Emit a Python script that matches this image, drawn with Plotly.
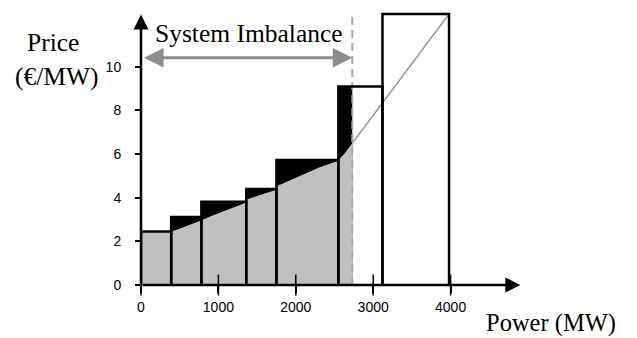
import plotly.graph_objects as go

# ---- data ----
box_edges_mw = [0, 390, 780, 1360, 1750, 2550, 3120, 3980]
box_prices = [2.45, 3.12, 3.82, 4.40, 5.73, 9.10, 12.42]
imbalance_mw = 2730

curve_mw = [0, 390, 480, 590, 680, 780, 790, 900, 1060, 1200, 1360, 1370, 1550, 1750,
            1760, 2000, 2140, 2300, 2550, 2560, 2620, 2680, 2730]
curve_price = [2.45, 2.45, 2.55, 2.70, 2.82, 2.95, 2.98, 3.15, 3.36, 3.55, 3.78, 3.93, 4.15, 4.36,
               4.54, 4.92, 5.15, 5.38, 5.70, 5.78, 5.98, 6.25, 6.50]

line_mw = [2730, 3980]
line_price = [6.50, 12.42]

x_ticks = [0, 1000, 2000, 3000, 4000]
y_ticks = [0, 2, 4, 6, 8, 10]

serif = "Liberation Serif"
sans = "Liberation Sans"

fig = go.Figure()

# black step area up to the imbalance
n_in = sum(1 for e in box_edges_mw[:-1] if e < imbalance_mw)
step_x = box_edges_mw[:n_in] + [imbalance_mw]
step_y = box_prices[:n_in] + [box_prices[n_in - 1]]
fig.add_trace(go.Scatter(x=step_x, y=step_y, mode="lines", line=dict(shape="hv", width=0, color="black"),
                         fill="tozeroy", fillcolor="black", hoverinfo="skip"))

# gray area under the cost curve
fig.add_trace(go.Scatter(x=curve_mw, y=curve_price, mode="lines", line=dict(width=0, color="#c0c0c0"),
                         fill="tozeroy", fillcolor="#c0c0c0", hoverinfo="skip"))

# continuation of the supply line
fig.add_trace(go.Scatter(x=line_mw, y=line_price, mode="lines", line=dict(width=1.5, color="#999999"),
                         hoverinfo="skip"))

# dashed imbalance line
fig.add_trace(go.Scatter(x=[imbalance_mw, imbalance_mw], y=[0, 12.5], mode="lines",
                         line=dict(width=2, color="#a8a8a8", dash="8px,5px"), hoverinfo="skip"))

# box outlines
bx, by = [], []
for i, h in enumerate(box_prices):
    l, r = box_edges_mw[i], box_edges_mw[i + 1]
    bx += [l, l, r, r, None]
    by += [0, h, h, 0, None]
fig.add_trace(go.Scatter(x=bx, y=by, mode="lines", line=dict(width=2.5, color="black"), hoverinfo="skip"))

# crossing tick marks on x axis
fig.add_trace(go.Scatter(x=x_ticks, y=[0] * len(x_ticks), mode="markers", cliponaxis=False,
                         marker=dict(symbol="line-ns", size=15, line=dict(width=1.5, color="black")),
                         hoverinfo="skip"))

txt = dict(xref="paper", yref="paper", showarrow=False, xanchor="center", yanchor="middle")
annotations = [
    # y axis with arrow
    dict(x=0, y=12.4, ax=0, ay=0, xref="x", yref="y", axref="x", ayref="y", text="",
         showarrow=True, arrowhead=2, arrowsize=1.2, arrowwidth=2.5, arrowcolor="black"),
    # x axis with arrow
    dict(x=4900, y=0, ax=0, ay=0, xref="x", yref="y", axref="x", ayref="y", text="",
         showarrow=True, arrowhead=2, arrowsize=1.2, arrowwidth=2.5, arrowcolor="black"),
    # system imbalance double arrow
    dict(x=imbalance_mw, y=10.41, ax=20, ay=10.41, xref="x", yref="y", axref="x", ayref="y", text="",
         showarrow=True, arrowhead=2, arrowsize=1.3, arrowwidth=3, arrowcolor="#8c8c8c",
         arrowside="end+start"),
    dict(x=0.2778, y=0.913, text="System Imbalance",
         font=dict(family=serif, size=25.5, color="black"), **txt),
    dict(x=-0.2274, y=0.877, text="Price",
         font=dict(family=serif, size=25.5, color="black"), **txt),
    dict(x=-0.2158, y=0.755, text="(€/MW)",
         font=dict(family=serif, size=25.5, color="black"), **txt),
    dict(x=1.0594, y=-0.138, text="Power (MW)",
         font=dict(family=serif, size=24.5, color="black"), **txt),
]

fig.update_layout(
    width=629, height=330,
    margin=dict(l=133, r=109, t=1, b=53, autoexpand=False),
    paper_bgcolor="white", plot_bgcolor="white",
    showlegend=False,
    annotations=annotations,
    xaxis=dict(range=[0, 5000], showgrid=False, zeroline=False, showline=False,
               tickvals=x_ticks, ticktext=[str(v) for v in x_ticks],
               ticks="outside", ticklen=7, tickwidth=1.5, tickcolor="black",
               ticklabelstandoff=2,
               tickfont=dict(family=sans, size=14, color="black"), automargin=False),
    yaxis=dict(range=[0, 12.65], showgrid=False, zeroline=False, showline=False,
               tickvals=y_ticks, ticktext=[str(v) for v in y_ticks],
               ticks="outside", ticklen=5, tickwidth=1.5, tickcolor="black",
               ticklabelstandoff=11,
               tickfont=dict(family=sans, size=14, color="black"), automargin=False),
)

fig.write_html("out.html")
